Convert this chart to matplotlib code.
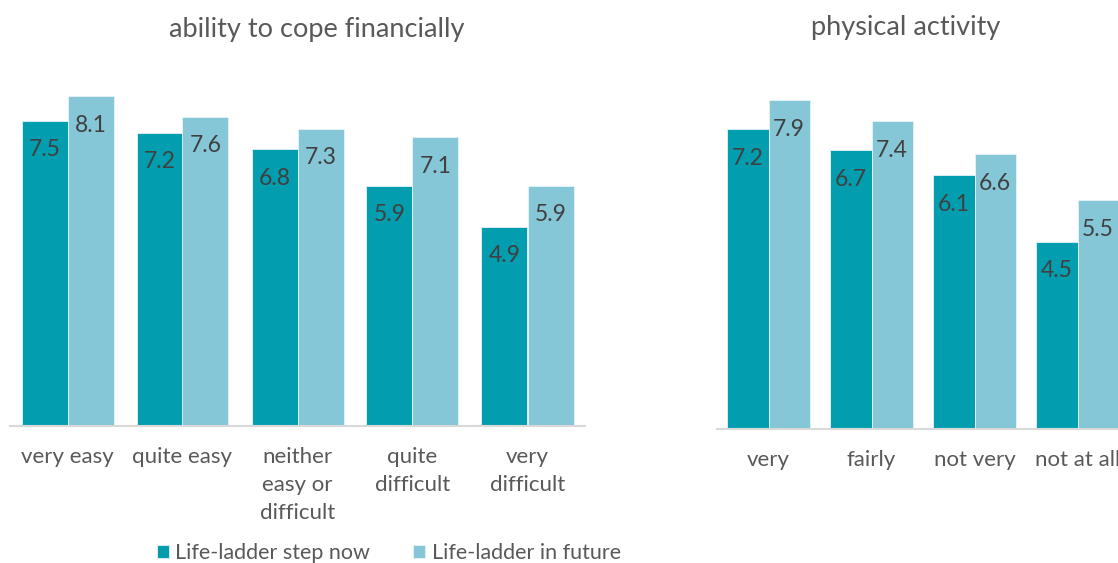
import matplotlib.pyplot as plt
import numpy as np

plt.rcParams['font.family'] = ['Lato', 'DejaVu Sans']

# ability to cope financially
fin_cats = ["very easy", "quite easy", "neither\neasy or\ndifficult", "quite\ndifficult", "very\ndifficult"]
fin_now = [7.5, 7.2, 6.8, 5.9, 4.9]
fin_future = [8.1, 7.6, 7.3, 7.1, 5.9]

# physical activity
act_cats = ["very", "fairly", "not very", "not at all"]
act_now = [7.2, 6.7, 6.1, 4.5]
act_future = [7.9, 7.4, 6.6, 5.5]

series_names = ["Life-ladder step now", "Life-ladder in future"]

DARK = "#029DAF"
LIGHT = "#85C6D7"
TEXT = "#595959"
LABEL = "#404040"

W, H = 1118, 563
fig = plt.figure(figsize=(W / 100, H / 100), dpi=100)


def px_axes(x0, x1, base, px_per_unit, ymax=9):
    top = base - ymax * px_per_unit
    return fig.add_axes([x0 / W, (H - base) / H, (x1 - x0) / W, (base - top) / H])


def draw_panel(ax, cats, now, future):
    x = np.arange(len(cats))
    w = 0.4
    b1 = ax.bar(x - w / 2, now, w, color=DARK, edgecolor="#e6f4f7", linewidth=0.6)
    b2 = ax.bar(x + w / 2, future, w, color=LIGHT, edgecolor="#e6f4f7", linewidth=0.6)
    for bars, vals in ((b1, now), (b2, future)):
        for r, v in zip(bars, vals):
            ax.annotate(f"{v:.1f}", (r.get_x() + r.get_width() / 2, v),
                        xytext=(0, -29), textcoords="offset pixels",
                        ha="center", va="center", fontsize=16.5, color=LABEL)
    ax.set_xlim(-0.5, len(cats) - 0.5)
    ax.set_ylim(0, 9)
    ax.set_xticks(x)
    ax.set_xticklabels(cats, fontsize=16, color=TEXT, linespacing=1.5, va="top")
    ax.tick_params(axis="x", length=0, pad=15)
    ax.set_yticks([])
    for s in ("top", "left", "right"):
        ax.spines[s].set_visible(False)
    ax.spines["bottom"].set_color("#D9D9D9")
    ax.spines["bottom"].set_linewidth(1.5)
    return b1, b2


ax1 = px_axes(10, 585, 426, 40.7)
h1, h2 = draw_panel(ax1, fin_cats, fin_now, fin_future)

ax2 = px_axes(717, 1129, 429, 41.6)
draw_panel(ax2, act_cats, act_now, act_future)

fig.text(317 / W, 1 - 30 / H, "ability to cope financially", ha="center", va="center",
         fontsize=19.5, color=TEXT)
fig.text(906 / W, 1 - 28 / H, "physical activity", ha="center", va="center",
         fontsize=19.5, color=TEXT)

fig.legend([h1, h2], series_names, loc="center", bbox_to_anchor=(389 / W, 1 - 553 / H),
           ncol=2, frameon=False, fontsize=15.5, labelcolor=TEXT,
           handlelength=0.55, handleheight=0.55, handletextpad=0.3, columnspacing=2.0)

fig.savefig("out.png", dpi=100)
